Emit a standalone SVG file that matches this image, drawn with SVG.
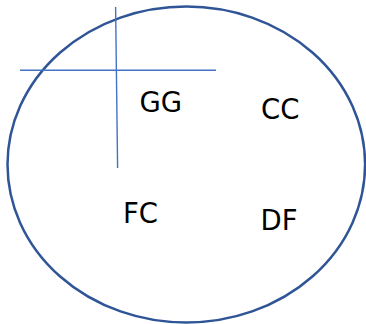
<svg xmlns="http://www.w3.org/2000/svg" width="366" height="324" viewBox="0 0 366 324">
<style>
.t{font-family:"DejaVu Sans","Noto Sans",sans-serif;font-size:27.5px;fill:#000}
.ln{stroke:#4472C4;stroke-width:1.4;fill:none}
</style>
<rect width="366" height="324" fill="#fff"/>
<g id="boundary"><ellipse cx="186.3" cy="164.5" rx="178.8" ry="158" fill="none" stroke="#2F5597" stroke-width="2.5"/></g>
<g id="connectors">
<line class="ln" x1="20" y1="70.3" x2="216" y2="70.3"/>
<line class="ln" x1="115.6" y1="7" x2="117.6" y2="168"/>
</g>
<g id="GG"><text class="t" x="139.5" y="112.3">GG</text></g>
<g id="CC"><text class="t" x="261" y="119">CC</text></g>
<g id="FC"><text class="t" x="123" y="223">FC</text></g>
<g id="DF"><text class="t" x="260.5" y="230">DF</text></g>
</svg>
